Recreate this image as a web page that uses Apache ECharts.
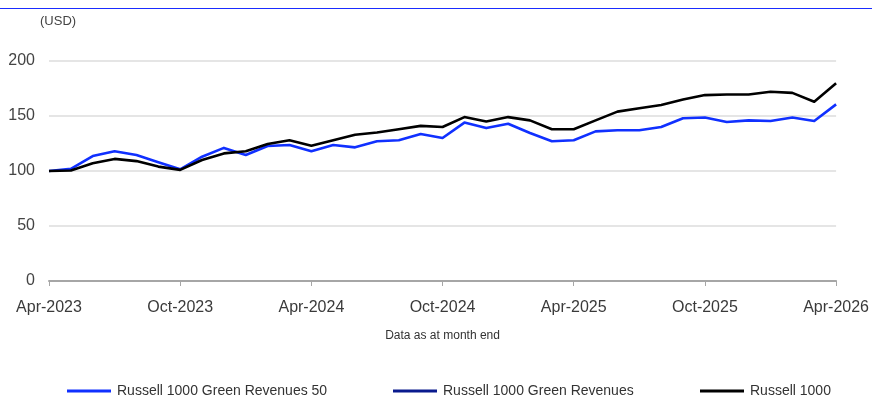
<!DOCTYPE html>
<html>
<head>
<meta charset="utf-8">
<title>Russell 1000 Green Revenues</title>
<script src="https://cdn.jsdelivr.net/npm/echarts@6/dist/echarts.min.js"></script>
<style>
  html, body { margin: 0; padding: 0; background: #fff; }
  #chart { width: 872px; height: 396px; }
</style>
</head>
<body>
<div id="chart"></div>
<script>
// Month-end dates
const months = [
  'Apr-2023','May-2023','Jun-2023','Jul-2023','Aug-2023','Sep-2023','Oct-2023',
  'Nov-2023','Dec-2023','Jan-2024','Feb-2024','Mar-2024','Apr-2024',
  'May-2024','Jun-2024','Jul-2024','Aug-2024','Sep-2024','Oct-2024',
  'Nov-2024','Dec-2024','Jan-2025','Feb-2025','Mar-2025','Apr-2025',
  'May-2025','Jun-2025','Jul-2025','Aug-2025','Sep-2025','Oct-2025',
  'Nov-2025','Dec-2025','Jan-2026','Feb-2026','Mar-2026','Apr-2026'
];

// Index levels in USD, rebased to 100
const greenRevenues50 = [
  100, 102, 113.6, 118, 114.5, 108, 101.5,
  113, 121, 114.5, 122.7, 123.6, 118,
  123.6, 121.5, 127, 128, 133.6, 130,
  144, 139, 143, 134.5, 127, 128,
  136, 137, 137, 140, 148, 148.6,
  144.5, 146, 145.5, 148.6, 145.5, 160.6
];
const greenRevenues = [];
const russell1000 = [
  100, 100.5, 107, 111, 109, 104, 101,
  110, 116, 118, 124.5, 128, 123,
  128, 133, 135, 138, 141, 140,
  149, 145, 149, 146, 138, 138,
  146, 154, 157, 160, 165, 169,
  169.5, 169.5, 172, 171, 163, 179.7
];

const yTicks = { min: 0, max: 200, step: 50 };

const seriesNames = ['Russell 1000 Green Revenues 50', 'Russell 1000 Green Revenues', 'Russell 1000'];
const seriesColors = ['#1030ff', '#0a1a8e', '#000000'];

const FONT = '"Liberation Sans", Arial, sans-serif';

const chart = echarts.init(document.getElementById('chart'), null, { renderer: 'canvas' });

function legendAt(name, left) {
  return {
    data: [name],
    left: left,
    top: 379,
    icon: 'rect',
    itemWidth: 44,
    itemHeight: 3,
    itemGap: 0,
    selectedMode: false,
    textStyle: { fontFamily: FONT, fontSize: 14, color: '#333', padding: [0, 0, 0, 1] }
  };
}

const lineSeries = (name, data, color, z) => ({
  name: name,
  type: 'line',
  data: data,
  color: color,
  symbol: 'none',
  smooth: false,
  z: z,
  lineStyle: { color: color, width: 2.6, join: 'round' }
});

chart.setOption({
  animation: false,
  backgroundColor: '#ffffff',
  textStyle: { fontFamily: FONT },
  grid: { left: 49, right: 35, top: 61, bottom: 115, containLabel: false },
  legend: [
    legendAt(seriesNames[0], 62),
    legendAt(seriesNames[1], 388),
    legendAt(seriesNames[2], 695)
  ],
  graphic: [
    { type: 'line', shape: { x1: 0, y1: 8.5, x2: 872, y2: 8.5 }, style: { stroke: '#1a2cff', lineWidth: 1 }, silent: true },
    { type: 'text', left: 40, top: 15, style: { text: '(USD)', fill: '#444', font: '13px ' + FONT } }
  ],
  xAxis: {
    type: 'category',
    data: months,
    boundaryGap: false,
    name: 'Data as at month end',
    nameLocation: 'middle',
    nameGap: 49,
    nameTextStyle: { fontFamily: FONT, fontSize: 12, color: '#333' },
    axisLine: { lineStyle: { color: '#a6a6a6', width: 2 } },
    axisTick: { show: true, interval: 5, length: 5, lineStyle: { color: '#a6a6a6', width: 1 } },
    axisLabel: { interval: 5, margin: 19, fontFamily: FONT, fontSize: 16, color: '#3a3a3a', showMaxLabel: true, showMinLabel: true },
    splitLine: { show: false }
  },
  yAxis: {
    type: 'value',
    min: yTicks.min,
    max: yTicks.max,
    interval: yTicks.step,
    axisLine: { show: false },
    axisTick: { show: false },
    axisLabel: { margin: 14, fontFamily: FONT, fontSize: 16, color: '#444' },
    splitLine: { lineStyle: { color: '#dcdcdc', width: 1.5 } }
  },
  series: [
    lineSeries(seriesNames[0], greenRevenues50, seriesColors[0], 2),
    lineSeries(seriesNames[1], greenRevenues, seriesColors[1], 3),
    lineSeries(seriesNames[2], russell1000, seriesColors[2], 4)
  ]
});
</script>
</body>
</html>
